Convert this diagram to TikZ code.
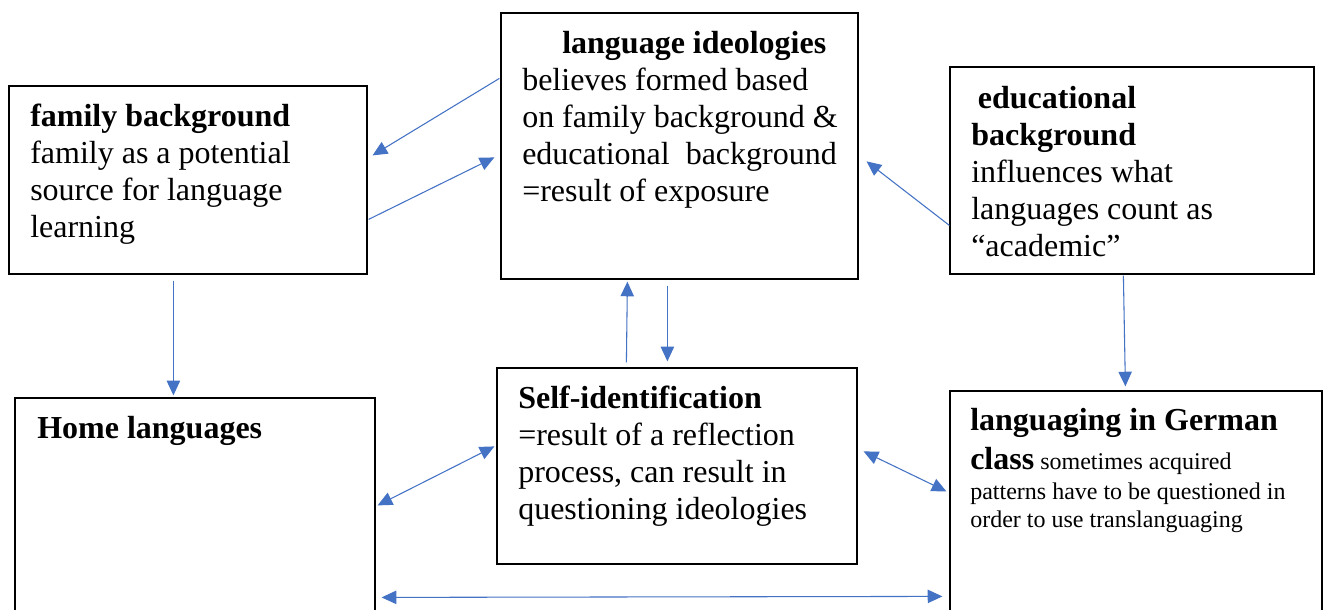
\documentclass[tikz,border=0pt]{standalone}
\usepackage{fontspec}
\setmainfont{Liberation Serif}
\usetikzlibrary{fit,calc,arrows.meta}
\definecolor{arr}{HTML}{4472C4}
\begin{document}
\begin{tikzpicture}[x=0.75pt,y=-0.75pt,
  box/.style={draw=black, line width=0.9pt, inner sep=0pt},
  txt/.style={anchor=north west, align=left, inner sep=0pt, font=\fontsize{24}{27.75}\selectfont},
  smalltxt/.style={anchor=north west, align=left, inner sep=0pt, font=\fontsize{18}{21}\selectfont},
  tip/.tip={Triangle[length=11pt,width=10pt]},
  con/.style={draw=arr, line width=0.8pt, -tip},
  dcon/.style={draw=arr, line width=0.8pt, tip-tip}]
\useasboundingbox (0,0) rectangle (1325,610);
\fill[white] (0,0) rectangle (1325,610);

% boxes
\coordinate (fa1) at (9,86);    \coordinate (fa2) at (367,274);
\coordinate (id1) at (501,13);  \coordinate (id2) at (858,279);
\coordinate (ed1) at (950,67);  \coordinate (ed2) at (1314,274);
\coordinate (ho1) at (15,398);  \coordinate (ho2) at (375,640);
\coordinate (se1) at (497,368); \coordinate (se2) at (857,564);
\coordinate (la1) at (950,391); \coordinate (la2) at (1322,640);
\node[box, fit=(fa1)(fa2)] (fam) {};
\node[box, fit=(id1)(id2)] (ideo) {};
\node[box, fit=(ed1)(ed2)] (edu) {};
\node[box, fit=(ho1)(ho2)] (home) {};
\node[box, fit=(se1)(se2)] (self) {};
\node[box, fit=(la1)(la2)] (lang) {};

% texts
\node[txt] (famtxt) at (30,104) {\textbf{family background}\\family as a potential\\source for language\\learning};
\node[txt] (ideotxt) at (522,31) {\hspace*{30pt}\textbf{language ideologies}\\believes formed based\\on family background \&\\educational\ \ background\\=result of exposure};
\node[txt] (edutxt) at (971,86) {\hspace*{5pt}\textbf{educational}\\\textbf{background}\\influences what\\languages count as\\``academic''};
\node[txt] (hometxt) at (37,416) {\textbf{Home languages}};
\node[txt] (selftxt) at (518,386) {\textbf{Self-identification}\\=result of a reflection\\process, can result in\\questioning ideologies};
\node[anchor=base west, inner sep=0pt, font=\fontsize{24}{27.75}\selectfont\bfseries] (langtxt) at (970,430) {languaging in German};
\node[smalltxt] (langtxtb) at (970,447) {{\fontsize{24}{27.75}\selectfont\bfseries class} sometimes acquired\\[1.5pt]patterns have to be questioned in\\order to use translanguaging};

% connectors
\draw[con] ($(ideo.north west)+(-1,66)$) -- ($(fam.north east)+(5,70)$);
\draw[con] ($(fam.north east)+(1,134)$) -- ($(ideo.north west)+(-6,145)$);
\draw[con] ($(edu.north west)+(0,159)$) -- ($(ideo.north east)+(8,149)$);
\draw[con] ($(fam.south west)+(165,6)$) -- ($(home.north west)+(159,-2)$);
\draw[con] ($(self.north west)+(130,-5)$) -- ($(ideo.south west)+(127,2)$);
\draw[con] ($(ideo.south west)+(167,6)$) -- ($(self.north west)+(171,-6)$);
\draw[con] ($(edu.south west)+(174,1)$) -- ($(lang.north west)+(176,-4)$);
\draw[dcon] ($(home.north east)+(2,108)$) -- ($(self.north west)+(-2,79)$);
\draw[dcon] ($(self.north east)+(6,84)$) -- ($(lang.north west)+(-3,101)$);
\draw[dcon] ($(home.north east)+(6,200)$) -- ($(lang.north west)+(-7,206)$);
\end{tikzpicture}
\end{document}
